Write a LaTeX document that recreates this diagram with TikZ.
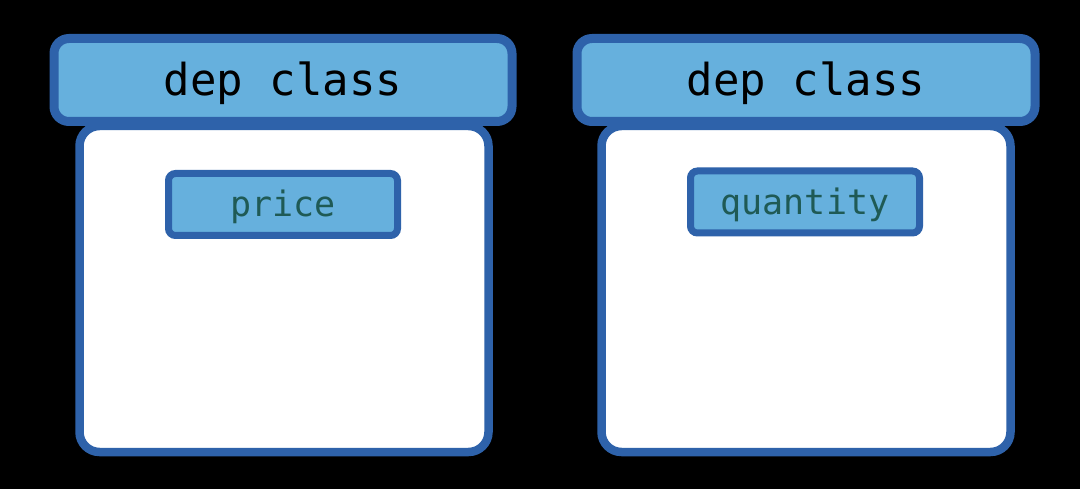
\documentclass[tikz,border=0pt]{standalone}
\usepackage{fontspec}
\setmonofont{DejaVu Sans Mono}
\definecolor{edge}{HTML}{2E62AA}
\definecolor{lfill}{HTML}{66B0DD}
\definecolor{ftext}{HTML}{1F5A55}
\tikzset{
  body/.style={draw=edge, fill=white, line width=8.5pt, rounded corners=20pt, minimum width=409pt, minimum height=326pt, inner sep=0pt},
  header/.style={draw=edge, fill=lfill, line width=9pt, rounded corners=15pt, minimum width=458pt, minimum height=83pt, inner sep=0pt, text depth=2pt, font=\ttfamily\fontsize{44}{50}\selectfont, text=black},
  field/.style={draw=edge, fill=lfill, line width=7pt, rounded corners=7pt, minimum width=229pt, minimum height=62pt, inner sep=0pt, text depth=2pt, font=\ttfamily\fontsize{35}{40}\selectfont, text=ftext},
}
\begin{document}
\begin{tikzpicture}[x=1pt,y=-1pt]
\path[fill=black,use as bounding box] (0,0) rectangle (1080,489);
\node[body] (b1) at (284,289) {};
\node[header] (h1) at (283,80) {dep class};
\node[field] (f1) at (283,204.5) {price};
\node[body] (b2) at (806,289) {};
\node[header] (h2) at (806,80) {dep class};
\node[field] (f2) at (805,202) {quantity};
\end{tikzpicture}
\end{document}
